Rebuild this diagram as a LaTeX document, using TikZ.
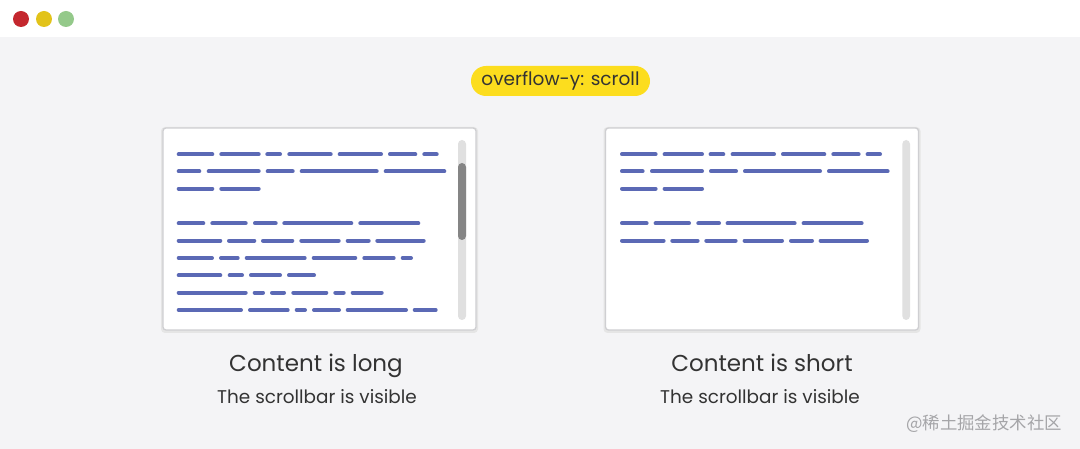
\documentclass[tikz,border=0pt]{standalone}
\usepackage{fontspec}
\setmainfont{Poppins}
\newfontfamily\cjk{Noto Sans CJK SC}
\definecolor{bgc}{HTML}{F4F4F6}
\definecolor{dotred}{HTML}{C4272E}
\definecolor{dotyel}{HTML}{E2C31A}
\definecolor{dotgrn}{HTML}{94C98A}
\definecolor{pillc}{HTML}{FCDD1E}
\definecolor{txt}{HTML}{333333}
\definecolor{barc}{HTML}{5B69B5}
\definecolor{trackc}{HTML}{E0E0E0}
\definecolor{thumbc}{HTML}{858585}
\definecolor{wmc}{HTML}{A5A5A8}
\definecolor{framec}{HTML}{CFCFD2}
\tikzset{
  dotc/.style={circle, minimum size=16, inner sep=0},
  pill/.style={fill=pillc, rounded corners=15, minimum height=30, minimum width=179, inner sep=0, text=txt, font=\fontsize{18.5}{22}\selectfont},
  panel/.style={fill=white, draw=framec, line width=1.3, rounded corners=3, minimum width=313, minimum height=202, inner sep=0},
  shade/.style={fill=black!10, rounded corners=4, minimum width=317, minimum height=206, inner sep=0},
  bar/.style={barc, line width=4, line cap=round},
  title/.style={text=txt, font=\fontsize{23}{28}\selectfont, inner sep=0, anchor=base},
  sub/.style={text=txt, font=\fontsize{18.4}{22}\selectfont, inner sep=0, anchor=base},
  track/.style={fill=trackc, rounded corners=4},
  thumb/.style={fill=thumbc, rounded corners=4},
}
\def\rowA{176.7/214.3,219.3/260.7,265.3/282,287.3/332.7,337.7/383,388/417.3,422.3/438.7}
\def\rowB{176.7/201.3,206.7/260.7,265.7/294.7,299.7/378.7,383.7/446.3}
\def\rowC{176.7/214.3,219.3/260.7}
\def\rowD{176.7/205.3,210.3/247.7,253/277.7,282.3/353.3,358.3/420.3}
\def\rowE{176.7/222.3,227/256.3,261/294.3,299.3/340.7,345.7/370.7,375.3/425.7}
\def\rowF{176.7/214,219/239.7,244.7/306.7,311.7/357.3,362.3/395.7,400.7/413}
\def\rowG{176.7/222.3,227.7/244,249/282,287/316}
\def\rowH{176.7/247.7,252.7/265,270/286,291.3/328.3,333.3/345.7,350.7/383.7}
\def\rowI{176.7/243,248/289.7,294.7/307,312/341,345.7/408,412.7/437.7}
\newcommand{\barrow}[2]{\foreach \a/\b in #1 {\draw[bar] (\a+2,#2) -- (\b-2,#2);}}
\begin{document}
\begin{tikzpicture}[x=1pt,y=-1pt]
\useasboundingbox (0,0) rectangle (1080,449);
\fill[bgc] (0,0) rectangle (1080,449);
\fill[white] (0,0) rectangle (1080,37);
\node[dotc, fill=dotred] (red) at (21,19) {};
\node[dotc, fill=dotyel] (yel) at (44,19) {};
\node[dotc, fill=dotgrn] (grn) at (66,19) {};
\node[pill] (tag) at (560.5,81) {overflow-y: scroll};
% left panel
\node[shade] (longsh) at (319.5,230) {};
\node[panel] (long) at (319.5,229) {};
\barrow{\rowA}{154.3}
\barrow{\rowB}{171.3}
\barrow{\rowC}{188.7}
\barrow{\rowD}{223.3}
\barrow{\rowE}{240.7}
\barrow{\rowF}{258}
\barrow{\rowG}{275.3}
\barrow{\rowH}{292.7}
\barrow{\rowI}{310}
\fill[track] (458,140) rectangle (466,320);
\fill[thumb] (458,163) rectangle (466,240);
\node[title] (longt) at (316,371) {Content is long};
\node[sub] (longs) at (317,403.5) {The scrollbar is visible};
% right panel
\node[shade] (shortsh) at (762,230) {};
\node[panel] (short) at (762,229) {};
\begin{scope}[xshift=443.3pt]
\barrow{\rowA}{154.3}
\barrow{\rowB}{171.3}
\barrow{\rowC}{188.7}
\barrow{\rowD}{223.3}
\barrow{\rowE}{240.7}
\end{scope}
\fill[track] (902.3,140) rectangle (910,320);
\node[title] (shortt) at (762,371) {Content is short};
\node[sub] (shorts) at (760,403.5) {The scrollbar is visible};
\node[text=wmc, font=\cjk\fontsize{17.4}{20}\selectfont, inner sep=0] (wm) at (984,424) {@稀土掘金技术社区};
\end{tikzpicture}
\end{document}
